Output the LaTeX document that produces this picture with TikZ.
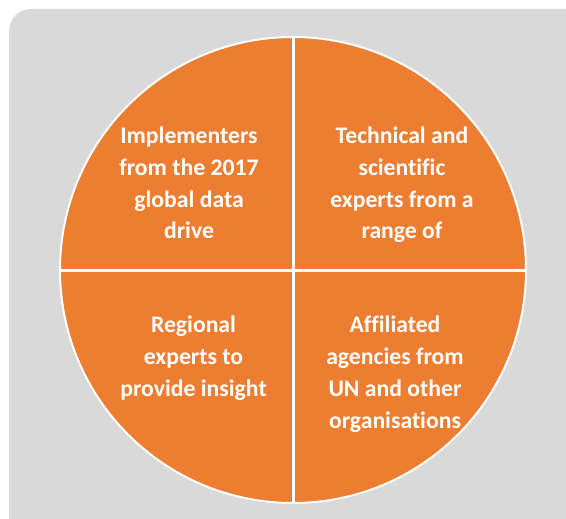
\documentclass[tikz,border=0pt]{standalone}
\usepackage{fontspec}
\setmainfont{Carlito}[Ligatures=NoCommon]
\definecolor{bggray}{HTML}{D9D9D9}
\definecolor{orng}{HTML}{ED7D31}
\begin{document}
\begin{tikzpicture}[x=1pt,y=-1pt,
  quadtext/.style={text=white,align=center,inner sep=0pt,anchor=base,
    font=\fontsize{23.7}{32}\selectfont\bfseries},
  divider/.style={draw=white,line width=3pt}]
\useasboundingbox (0,0) rectangle (566,519);
\fill[bggray,rounded corners=22pt] (9,9) rectangle (620,580);
\node[circle,fill=orng,draw=white,line width=2pt,minimum size=466pt,inner sep=0pt] (c) at (293,270) {};
\draw[divider] (c.north) -- (c.south);
\draw[divider] (c.west) -- (c.east);
\node[quadtext] (q1) at (189,239) {Implementers\\from the 2017\\global data\\drive};
\node[quadtext] (q2) at (402,239) {Technical and\\scientific\\experts from a\\range of};
\node[quadtext] (q3) at (193.5,396) {Regional\\experts to\\provide insight};
\node[quadtext] (q4) at (395,428) {Affiliated\\agencies from\\UN and other\\organisations};
\end{tikzpicture}
\end{document}
